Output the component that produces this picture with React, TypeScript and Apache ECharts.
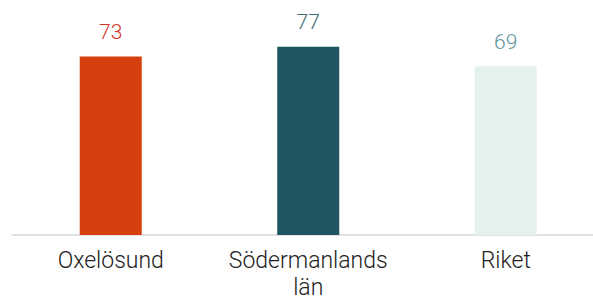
import React, { useEffect, useRef } from "react";
import * as echarts from "echarts";

const categories = ["Oxelösund", "Södermanlands\nlän", "Riket"];
const values = [73, 77, 69];
const barColors = ["#D63F0F", "#1F5560", "#E3F2EF"];
const labelColors = ["#D7362B", "#3A6970", "#5E9299"];

export default function App() {
  const ref = useRef<HTMLDivElement>(null);
  useEffect(() => {
    if (!ref.current) return;
    const chart = echarts.init(ref.current, undefined, { renderer: "svg" });
    chart.setOption({
      animation: false,
      grid: { left: 12, top: 15, right: 5.5, bottom: 66, containLabel: false },
      xAxis: {
        type: "category",
        data: categories,
        axisLine: { show: true, lineStyle: { color: "#D9D9D9", width: 1.5 } },
        axisTick: { show: false },
        axisLabel: {
          color: "#222",
          fontFamily: "Roboto",
          fontWeight: 300,
          fontSize: 23,
          lineHeight: 27,
          margin: 12,
          interval: 0,
        },
      },
      yAxis: {
        type: "value",
        min: 0,
        max: 90,
        show: false,
        splitLine: { show: false },
      },
      series: [
        {
          type: "bar",
          barWidth: 62,
          data: values.map((v, i) => ({
            value: v,
            itemStyle: { color: barColors[i] },
            label: { color: labelColors[i] },
          })),
          label: {
            show: true,
            position: "top",
            distance: 14,
            fontFamily: "Roboto",
            fontWeight: 300,
            fontSize: 21,
          },
        },
      ],
    });
    return () => chart.dispose();
  }, []);
  return (
    <div style={{ position: "fixed", left: 0, top: 0, width: 593, height: 301, overflow: "hidden", background: "#fff" }}>
      <div ref={ref} style={{ width: 610, height: 301 }} />
    </div>
  );
}
